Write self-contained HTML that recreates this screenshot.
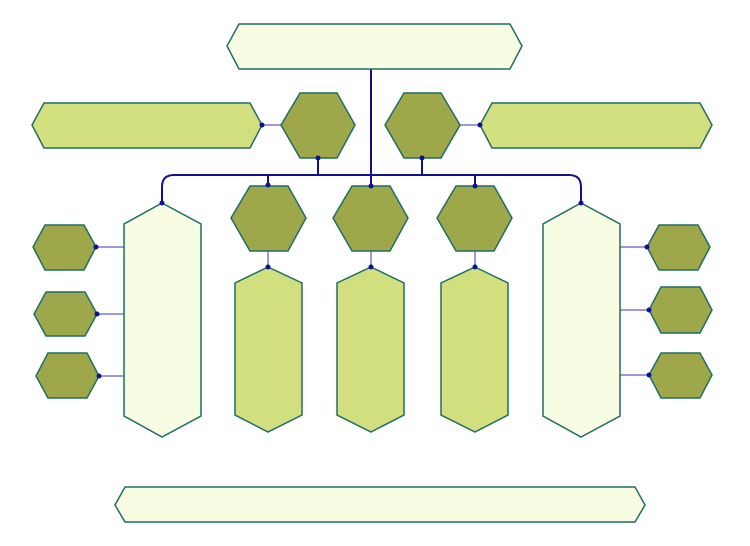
<!DOCTYPE html>
<html><head><meta charset="utf-8"><style>html,body{margin:0;padding:0;background:#fff}svg{display:block}</style></head>
<body>
<svg width="750" height="546" viewBox="0 0 750 546" xmlns="http://www.w3.org/2000/svg">
<g fill="none" stroke="#7a7acc" stroke-width="1.5">
<line x1="262" y1="125" x2="281" y2="125"/><line x1="460" y1="125" x2="480" y2="125"/>
<line x1="268" y1="251" x2="268" y2="267"/><line x1="371" y1="251" x2="371" y2="267"/><line x1="475" y1="251" x2="475" y2="267"/>
<line x1="96" y1="247" x2="124" y2="247"/><line x1="97" y1="314" x2="124" y2="314"/><line x1="99" y1="376" x2="124" y2="376"/>
<line x1="620" y1="247" x2="647" y2="247"/><line x1="620" y1="310" x2="649" y2="310"/><line x1="620" y1="375" x2="649" y2="375"/>
</g>
<g fill="none" stroke="#101090" stroke-width="2">
<line x1="371" y1="69" x2="371" y2="186"/>
<path d="M162 203 V187 Q162 175 174 175 H569 Q581 175 581 187 V203"/>
<line x1="318" y1="158" x2="318" y2="175"/><line x1="422" y1="158" x2="422" y2="175"/>
<line x1="268" y1="175" x2="268" y2="185"/><line x1="475" y1="175" x2="475" y2="186"/>
</g>
<g stroke="#1f6f62" stroke-width="1.5">
<polygon fill="#f8fce2" points="239,24 510,24 522,46 510,69 239,69 227,46"/>
<polygon fill="#d2df7e" points="44,103 250,103 262,125 250,148 44,148 32,125"/>
<polygon fill="#d2df7e" points="492,103 700,103 712,125 700,148 492,148 480,125"/>
<polygon fill="#9ea84b" points="300,93 337,93 355,125 337,158 300,158 281,125"/>
<polygon fill="#9ea84b" points="404,93 441,93 460,125 441,158 404,158 385,125"/>
<polygon fill="#9ea84b" points="250,186 288,186 306,218 288,251 250,251 231,218"/>
<polygon fill="#9ea84b" points="352,186 390,186 408,218 390,251 352,251 333,218"/>
<polygon fill="#9ea84b" points="456,186 494,186 512,218 494,251 456,251 437,218"/>
<polygon fill="#d2df7e" points="268,267 302,283 302,415 268,432 235,415 235,283"/>
<polygon fill="#d2df7e" points="371,267 404,283 404,415 371,432 337,415 337,283"/>
<polygon fill="#d2df7e" points="475,267 508,283 508,415 475,432 441,415 441,283"/>
<polygon fill="#f8fce2" points="162,203 201,224 201,416 162,437 124,416 124,224"/>
<polygon fill="#f8fce2" points="581,203 620,224 620,416 581,437 543,416 543,224"/>
<polygon fill="#9ea84b" points="45,225 84,225 96,247 84,270 45,270 33,247"/>
<polygon fill="#9ea84b" points="46,292 85,292 97,314 85,336 46,336 34,314"/>
<polygon fill="#9ea84b" points="48,353 87,353 99,376 87,398 48,398 36,376"/>
<polygon fill="#9ea84b" points="659,225 698,225 710,247 698,270 659,270 647,247"/>
<polygon fill="#9ea84b" points="661,287 700,287 712,310 700,333 661,333 649,310"/>
<polygon fill="#9ea84b" points="661,353 700,353 712,375 700,398 661,398 649,375"/>
<polygon fill="#f8fce2" points="125,487 635,487 645,505 635,522 125,522 115,505"/>
</g>
<g fill="#101090">
<circle cx="262" cy="125" r="2.5"/><circle cx="480" cy="125" r="2.5"/>
<circle cx="318" cy="158" r="2.5"/><circle cx="422" cy="158" r="2.5"/>
<circle cx="268" cy="185" r="2.5"/><circle cx="371" cy="186" r="2.5"/><circle cx="475" cy="186" r="2.5"/>
<circle cx="268" cy="267" r="2.5"/><circle cx="371" cy="267" r="2.5"/><circle cx="475" cy="267" r="2.5"/>
<circle cx="162" cy="203" r="2.5"/><circle cx="581" cy="203" r="2.5"/>
<circle cx="96" cy="247" r="2.5"/><circle cx="97" cy="314" r="2.5"/><circle cx="99" cy="376" r="2.5"/>
<circle cx="647" cy="247" r="2.5"/><circle cx="649" cy="310" r="2.5"/><circle cx="649" cy="375" r="2.5"/>
</g>
</svg>
</body></html>
